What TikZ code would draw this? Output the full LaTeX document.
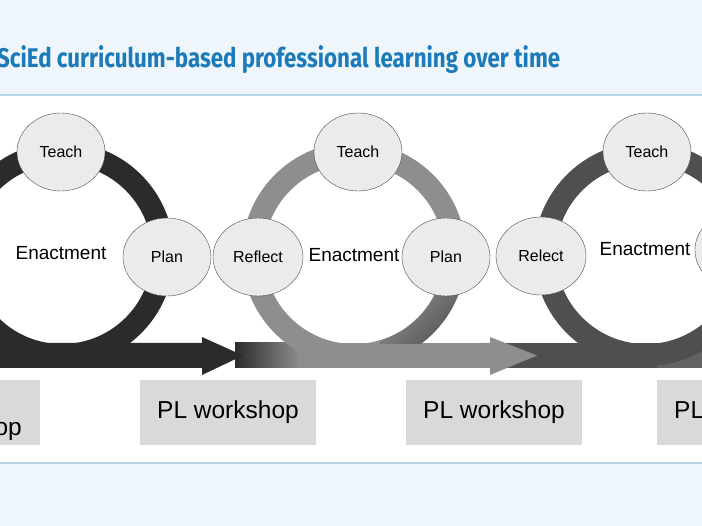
\documentclass[tikz,border=0pt]{standalone}
\usepackage{fontspec}
\setmainfont{Liberation Sans}
\newfontfamily\headfont{Fira Sans}
\usepackage{graphicx}
\usepackage{tikz}
\usetikzlibrary{shapes.geometric, positioning}

\definecolor{paleblue}{HTML}{EEF6FB}
\definecolor{ruleblue}{HTML}{B7D5E6}
\definecolor{titleblue}{HTML}{1C7AB8}
\definecolor{ringA}{HTML}{2B2B2B}
\definecolor{ringB}{HTML}{8E8E8E}
\definecolor{ringC}{HTML}{4F4F4F}
\definecolor{ringD}{HTML}{636363}
\definecolor{phasefill}{HTML}{EBEBEB}
\definecolor{boxfill}{HTML}{D9D9D9}

\begin{document}
\begin{tikzpicture}[x = 1pt, y = -1pt,
		ring/.style = {line width = 22pt},
		phase/.style = {shape = ellipse, draw = black!70, fill = phasefill, minimum width = 88pt, minimum height = 78pt, inner sep = 0pt, font = \fontsize{16}{18}\selectfont},
		cycle/.style = {font = \fontsize{19}{22}\selectfont, inner sep = 0pt},
		wsbox/.style = {fill = boxfill, minimum width = 176pt, minimum height = 65pt, inner sep = 0pt, font = \fontsize{24.5}{28}\selectfont}]
							\useasboundingbox (0,0) rectangle (702,526);
							\clip (0,0) rectangle (702,526);
				
							\fill [paleblue] (0,0) rectangle (702,95);
							\fill [paleblue] (0,463) rectangle (702,526);
							\draw [ruleblue, line width = 1.5pt] (0,95) -- (702,95);
							\draw [ruleblue, line width = 1.5pt] (0,463) -- (702,463);
				
							\node [anchor = base west, text = titleblue, inner sep = 0pt] (title) at (-3,68) {\resizebox{563pt}{\height}{\headfont\bfseries\fontsize{27}{30}\selectfont SciEd curriculum-based professional learning over time}};
				
							\fill [ringC] (495,343) rectangle (702,368);
							\fill [ringD] (657,343) rectangle (702,368);
							\fill [ringB] (295,343) rectangle (500,368);
							\shade [left color = ringA, right color = ringB] (235,343) rectangle (300,368);
				
							\foreach \cx/\col in {62/ringA, 354/ringB, 646/ringC}
							{
								\draw [ring, \col] (\cx,254) circle [radius = 101pt];
							}
				
							\begin{scope}
								\clip (380,290) rectangle (480,344);
								\clip (354,254) circle [radius = 112pt];
								\shade [top color = ringB, bottom color = ringA!85, shading angle = 45] (380,290) rectangle (480,344);
								\fill [white] (354,254) circle [radius = 90pt];
							\end{scope}
				
							\coordinate (tip1) at (243,355.5);
							\coordinate (tip2) at (537,355.5);
							\fill [ringA] (-5,343) -- (202,343) -- (202,337) -- (tip1) -- (202,375) -- (202,368) -- (-5,368) -- cycle;
							\fill [ringB] (480,343) -- (490,343) -- (490,337) -- (tip2) -- (490,375) -- (490,368) -- (480,368) -- cycle;
				
							\foreach \i/\x in {1/61, 2/358, 3/647}
							{
								\node [phase] (teach\i) at (\x,152) {Teach};
							}
							\node [phase] (plan1) at (167,257) {Plan};
							\node [phase, minimum width = 90pt] (reflect2) at (258,257) {Reflect};
							\node [phase] (plan2) at (446,257) {Plan};
							\node [phase, minimum width = 90pt] (relect3) at (541,256) {Relect};
							\node [phase] (plan3) at (739,250) {};
				
							\node [cycle] (enact1) at (61,253) {Enactment};
							\node [cycle] (enact2) at (354,255) {Enactment};
							\node [cycle] (enact3) at (645,249) {Enactment};
				
							\node [wsbox] (ws1) at (-48,412.5) {};
							\node [anchor = base east, inner sep = 0pt, font = \fontsize{24.5}{28}\selectfont] (ws1label) at (22,436) {PL workshop};
							\node [wsbox] (ws2) at (228,412.5) {PL workshop};
							\node [wsbox] (ws3) at (494,412.5) {PL workshop};
							\node [wsbox] (ws4) at (745,412.5) {PL workshop};
						\end{tikzpicture}
\end{document}
